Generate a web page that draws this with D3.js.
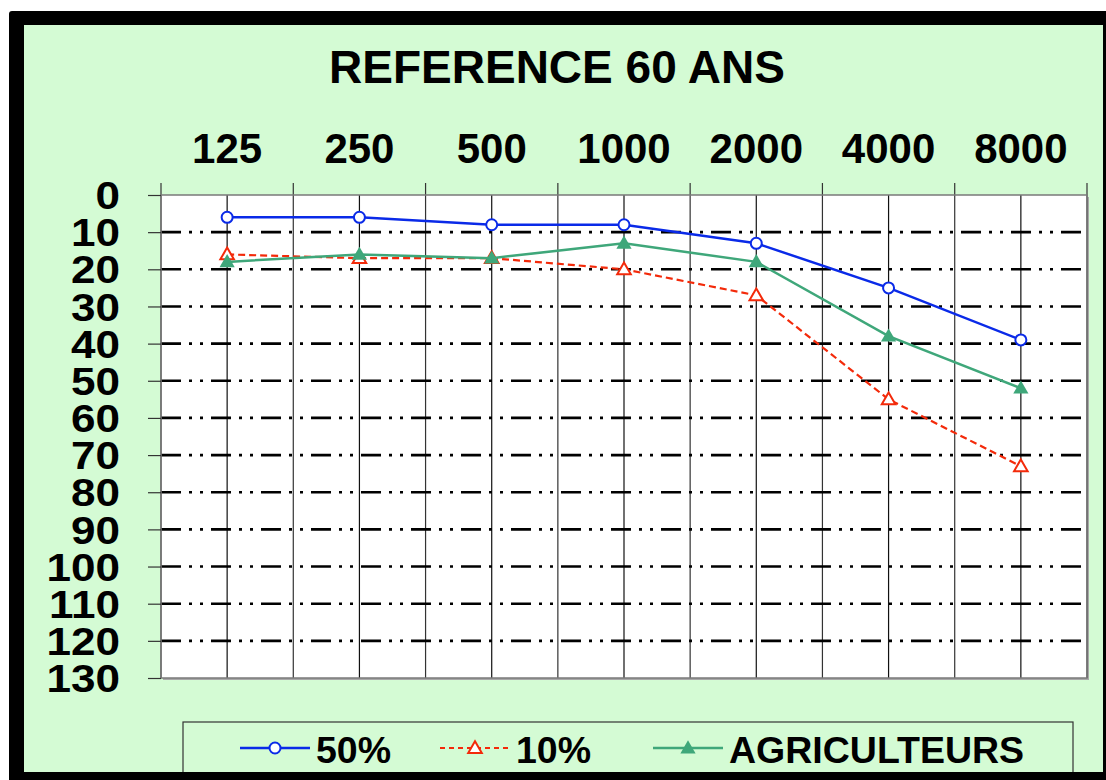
<!DOCTYPE html>
<html>
<head>
<meta charset="utf-8">
<script src="https://cdn.jsdelivr.net/npm/d3@7"></script>
<style>
  body { margin: 0; background: #fff; }
  svg { display: block; font-family: "Liberation Sans", Arial, sans-serif; font-weight: bold; }
</style>
</head>
<body>
<div id="chart"></div>
<script>
// data
var freqs = ["125", "250", "500", "1000", "2000", "4000", "8000"];
var yTicks = [0, 10, 20, 30, 40, 50, 60, 70, 80, 90, 100, 110, 120, 130];
var median = [6, 6, 8, 8, 13, 25, 39];
var decile = [16, 17, 17, 20, 27, 55, 73];
var farmers = [18, 16, 17, 13, 18, 38, 52];
var seriesNames = ["50%", "10%", "AGRICULTEURS"];

var W = 1106, H = 780;
var plot = {left: 161, top: 195, right: 1087, bottom: 678};

var svg = d3.select("#chart").append("svg")
    .attr("width", W)
    .attr("height", H);

// frame
svg.append("rect")
    .attr("x", 9).attr("y", 11)
    .attr("width", W).attr("height", H)
    .attr("rx", 3)
    .attr("fill", "#000");
svg.append("rect")
    .attr("x", 24).attr("y", 25)
    .attr("width", 1079).attr("height", 747)
    .attr("fill", "#d4fbd4");

// title
svg.append("text")
    .attr("x", 557).attr("y", 83)
    .attr("text-anchor", "middle")
    .attr("font-size", 46)
    .text("REFERENCE 60 ANS");

var x = d3.scaleBand()
    .domain(freqs)
    .range([plot.left, plot.right]);
var y = d3.scaleLinear()
    .domain([0, 130])
    .range([plot.top, plot.bottom]);

// plot area + shadow
svg.append("rect")
    .attr("x", plot.left + 2).attr("y", plot.top + 2)
    .attr("width", plot.right - plot.left).attr("height", plot.bottom - plot.top)
    .attr("fill", "#a8a8a8");
svg.append("rect")
    .attr("x", plot.left).attr("y", plot.top)
    .attr("width", plot.right - plot.left).attr("height", plot.bottom - plot.top)
    .attr("fill", "#fff");

// vertical lines: band boundaries (with outer ticks) and band centres
var bounds = freqs.map(function(d) { return x(d); }).concat([plot.right]);
svg.append("g").selectAll("line.bound")
    .data(bounds)
    .enter().append("line")
    .attr("x1", function(d) { return d; })
    .attr("x2", function(d) { return d; })
    .attr("y1", plot.top - 12)
    .attr("y2", plot.bottom)
    .attr("stroke", "#333")
    .attr("stroke-width", 1.2);
svg.append("g").selectAll("line.mid")
    .data(freqs)
    .enter().append("line")
    .attr("x1", function(d) { return x(d) + x.bandwidth() / 2; })
    .attr("x2", function(d) { return x(d) + x.bandwidth() / 2; })
    .attr("y1", plot.top)
    .attr("y2", plot.bottom)
    .attr("stroke", "#111")
    .attr("stroke-width", 1.2);

// horizontal dash-dot-dot gridlines
svg.append("g").selectAll("line")
    .data(yTicks.filter(function(d) { return d > 0 && d < 130; }))
    .enter().append("line")
    .attr("x1", plot.left)
    .attr("x2", plot.right)
    .attr("y1", function(d) { return y(d); })
    .attr("y2", function(d) { return y(d); })
    .attr("stroke", "#000")
    .attr("stroke-width", 2.6)
    .attr("stroke-dasharray", "20,8,3,8,3,8");

// plot border
svg.append("rect")
    .attr("x", plot.left).attr("y", plot.top)
    .attr("width", plot.right - plot.left).attr("height", plot.bottom - plot.top)
    .attr("fill", "none")
    .attr("stroke", "#7a7a7a")
    .attr("stroke-width", 1.5);

// top axis labels
var xAxis = d3.axisTop(x).tickSize(0).tickPadding(0);
var gx = svg.append("g")
    .attr("transform", "translate(0," + 163 + ")")
    .call(xAxis);
gx.select(".domain").remove();
gx.selectAll("text")
    .attr("font-size", 42)
    .attr("font-family", "Liberation Sans, Arial, sans-serif")
    .attr("font-weight", "bold")
    .attr("fill", "#000")
    .attr("dy", 0);

// left axis
var yAxis = d3.axisLeft(y).tickValues(yTicks).tickSize(13).tickPadding(0);
var gy = svg.append("g")
    .attr("transform", "translate(" + plot.left + ",0)")
    .call(yAxis);
gy.select(".domain").remove();
gy.selectAll(".tick line").attr("stroke", "#333").attr("stroke-width", 1.2);
gy.selectAll(".tick text")
    .attr("x", 0)
    .attr("dy", "0.36em")
    .attr("transform", "translate(-41,0) scale(1.16,1)")
    .attr("font-size", 38)
    .attr("font-family", "Liberation Sans, Arial, sans-serif")
    .attr("font-weight", "bold")
    .attr("fill", "#000");

// series
var cx = function(d, i) { return x(freqs[i]) + x.bandwidth() / 2; };
var line = d3.line()
    .x(function(d, i) { return x(freqs[i]) + x.bandwidth() / 2; })
    .y(function(d) { return y(d); });
var tri = d3.symbol().type(d3.symbolTriangle).size(80);

var series = [
  {name: seriesNames[0], values: median, color: "#0a2ae8", dash: null, width: 2.5, marker: "circle"},
  {name: seriesNames[1], values: decile, color: "#f32a0a", dash: "7,4", width: 2.2, marker: "openTri"},
  {name: seriesNames[2], values: farmers, color: "#3fa77a", dash: null, width: 2.5, marker: "tri"}
];

function drawMarker(g, s, px, py) {
  if (s.marker === "circle") {
    g.append("circle")
      .attr("cx", px).attr("cy", py).attr("r", 5.5)
      .attr("fill", "#fff").attr("stroke", s.color).attr("stroke-width", 2);
  } else if (s.marker === "openTri") {
    g.append("path")
      .attr("d", tri)
      .attr("transform", "translate(" + px + "," + (py + 1) + ")")
      .attr("fill", "#fff").attr("stroke", s.color).attr("stroke-width", 2);
  } else {
    g.append("path")
      .attr("d", d3.symbol().type(d3.symbolTriangle).size(100))
      .attr("transform", "translate(" + px + "," + (py + 1) + ")")
      .attr("fill", s.color);
  }
}

// draw order: 10% first, then farmers, then 50%
[series[1], series[2], series[0]].forEach(function(s) {
  var g = svg.append("g");
  g.append("path")
    .datum(s.values)
    .attr("d", line)
    .attr("fill", "none")
    .attr("stroke", s.color)
    .attr("stroke-width", s.width)
    .attr("stroke-dasharray", s.dash);
  s.values.forEach(function(v, i) {
    drawMarker(g, s, cx(v, i), y(v));
  });
});

// legend
var leg = svg.append("g");
leg.append("rect")
    .attr("x", 183).attr("y", 722)
    .attr("width", 890).attr("height", 80)
    .attr("fill", "#d4fbd4")
    .attr("stroke", "#333")
    .attr("stroke-width", 1.2);
var legStarts = [240, 440, 653], ly = 748;
series.forEach(function(s, i) {
  var lx = legStarts[i];
  leg.append("line")
    .attr("x1", lx).attr("x2", lx + 70)
    .attr("y1", ly).attr("y2", ly)
    .attr("stroke", s.color)
    .attr("stroke-width", s.width)
    .attr("stroke-dasharray", s.dash ? "5,4" : null);
  drawMarker(leg, s, lx + 35, ly);
  leg.append("text")
    .attr("x", lx + 76).attr("y", ly + 15)
    .attr("font-size", 37.5)
    .text(s.name);
});
// redraw bottom and right frame edges over the legend
svg.append("rect")
    .attr("x", 9).attr("y", 772)
    .attr("width", W).attr("height", 20)
    .attr("fill", "#000");
svg.append("rect")
    .attr("x", 1103).attr("y", 11)
    .attr("width", 10).attr("height", H)
    .attr("fill", "#000");
</script>
</body>
</html>
